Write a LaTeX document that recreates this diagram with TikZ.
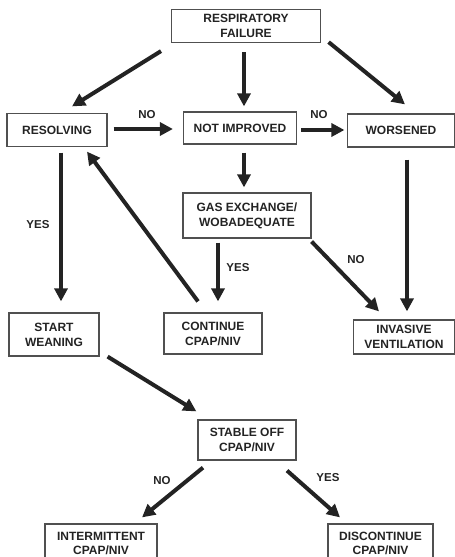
\documentclass[tikz,border=0pt]{standalone}
\usepackage{fontspec}
\setmainfont{Liberation Sans}
\usepackage{tikz}
\usetikzlibrary{arrows.meta, calc}
\definecolor{inkgray}{RGB}{35,35,35}
\definecolor{framegray}{RGB}{80,80,80}

\begin{document}
\begin{tikzpicture}[x=1pt, y=-1pt,
    box/.style={draw=framegray, line width=1.2pt, text=inkgray, align=center,
      inner sep=0pt, font=\fontsize{12}{15}\selectfont\bfseries},
    flow/.style={line width=4pt, draw=inkgray, -{Triangle[length=13pt, width=13pt]}},
    lbl/.style={text=inkgray, inner sep=0pt, font=\fontsize{11.5}{14}\selectfont\bfseries}]
  \useasboundingbox (0,0) rectangle (455,557);
  \clip (0,0) rectangle (455,557);
  % Boxes
  \node[box, minimum width=149pt, minimum height=33pt] (rf) at (246,26) {RESPIRATORY\\FAILURE};
  \node[box, minimum width=100pt, minimum height=33pt] (res) at (57,130) {RESOLVING};
  \node[box, minimum width=113pt, minimum height=32pt] (ni) at (240,128) {NOT IMPROVED};
  \node[box, minimum width=107pt, minimum height=33pt] (wor) at (401,130.5) {WORSENED};
  \node[box, minimum width=128pt, minimum height=45pt] (gas) at (247,215.5) {GAS EXCHANGE/\\WOBADEQUATE};
  \node[box, minimum width=90pt, minimum height=43pt] (sw) at (54,334.5) {START\\WEANING};
  \node[box, minimum width=98pt, minimum height=41pt] (cont) at (213,333.5) {CONTINUE\\CPAP/NIV};
  \node[box, minimum width=101pt, minimum height=34pt] (inv) at (404,337) {INVASIVE\\VENTILATION};
  \node[box, minimum width=98pt, minimum height=40pt] (stab) at (247,440) {STABLE OFF\\CPAP/NIV};
  % bottom row runs off the page
  \node[box, minimum width=112pt, minimum height=38pt, font=\fontsize{12}{14}\selectfont\bfseries] (int) at (101,543) {INTERMITTENT\\CPAP/NIV};
  \node[box, minimum width=105pt, minimum height=38pt, font=\fontsize{12}{14}\selectfont\bfseries] (dis) at (380.5,543) {DISCONTINUE\\CPAP/NIV};
  % Arrows
  \draw[flow] ($(rf.south)+(-85,8)$) -- ($(res.north)+(15,-6.5)$);
  \draw[flow] ($(rf.south)+(-2,9)$) -- ($(ni.north)+(4,-5)$);
  \draw[flow] ($(rf.south east)+(7.5,-1)$) -- ($(wor.north)+(4,-9)$);
  \draw[flow] ($(res.east)+(6,-1)$) -- ($(ni.west)+(-10,1)$);
  \draw[flow] ($(ni.east)+(4,2)$) -- ($(wor.west)+(-2.5,-0.5)$);
  \draw[flow] ($(ni.south)+(4,8)$) -- ($(gas.north)+(-3,-5)$);
  \draw[flow] ($(res.south)+(4,5.5)$) -- ($(sw.north)+(7,-11)$);
  \draw[flow] ($(cont.north)+(-15,-11)$) -- ($(res.south)+(30,4.5)$);
  \draw[flow] ($(wor.south)+(6,12)$) -- ($(inv.north)+(3,-8)$);
  \draw[flow] ($(gas.south)+(-29,4)$) -- ($(cont.north)+(5,-11)$);
  \draw[flow] ($(gas.south east)+(0,3)$) -- ($(inv.north)+(-25,-8)$);
  \draw[flow] ($(sw.south east)+(8,0)$) -- ($(stab.north west)+(-1,-8)$);
  \draw[flow] ($(stab.south)+(-44,7)$) -- ($(int.north)+(41,-6)$);
  \draw[flow] ($(stab.south)+(40,10)$) -- ($(dis.north)+(-40.5,-6)$);
  % Labels
  \node[lbl] (no1) at (147,115) {NO};
  \node[lbl] (no2) at (319,115) {NO};
  \node[lbl] (yes1) at (38,225) {YES};
  \node[lbl] (yes2) at (238,268) {YES};
  \node[lbl] (no3) at (356,260) {NO};
  \node[lbl] (no4) at (162,481) {NO};
  \node[lbl] (yes3) at (328,478) {YES};
\end{tikzpicture}
\end{document}
